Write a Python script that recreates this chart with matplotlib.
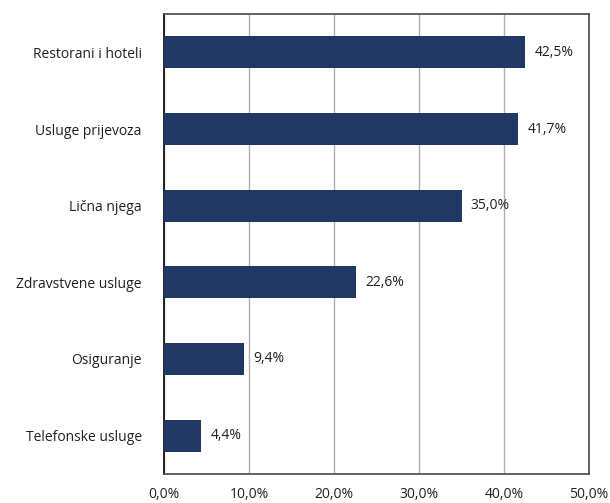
import matplotlib
matplotlib.use("Agg")
import matplotlib.pyplot as plt

categories = ["Restorani i hoteli", "Usluge prijevoza", "Lična njega",
              "Zdravstvene usluge", "Osiguranje", "Telefonske usluge"]
values = [42.5, 41.7, 35.0, 22.6, 9.4, 4.4]
xticks = [0, 10, 20, 30, 40, 50]

plt.rcParams['font.family'] = ['Open Sans', 'DejaVu Sans']

fig = plt.figure(figsize=(6.10, 5.03), dpi=100)
ax = fig.add_axes([164/610, 29/503, 425/610, 460/503])

ypos = list(range(len(categories)))[::-1]
ax.barh(ypos, values, height=0.42, color='#1f3864', zorder=3)
for y, v in zip(ypos, values):
    ax.text(v + 1.1, y, f"{v:.1f}%".replace('.', ','), va='center', ha='left',
            fontsize=10, color='#231f20')

ax.set_xlim(0, 50)
ax.set_ylim(-0.5, 5.5)
ax.set_yticks(ypos)
ax.set_yticklabels(categories, fontsize=10, color='#231f20')
ax.set_xticks(xticks)
ax.set_xticklabels([f"{t:.1f}%".replace('.', ',') for t in xticks], fontsize=10, color='#231f20')
ax.tick_params(axis='both', length=0)
ax.tick_params(axis='x', pad=9)
ax.tick_params(axis='y', pad=16)
ax.grid(axis='x', color='#b0b0b0', linewidth=1, zorder=0)
for s in ['top', 'right', 'bottom']:
    ax.spines[s].set_color('#555555')
    ax.spines[s].set_linewidth(1.3)
ax.spines['left'].set_color('#111111')
ax.spines['left'].set_linewidth(1.3)

fig.savefig('out.png', dpi=100)
